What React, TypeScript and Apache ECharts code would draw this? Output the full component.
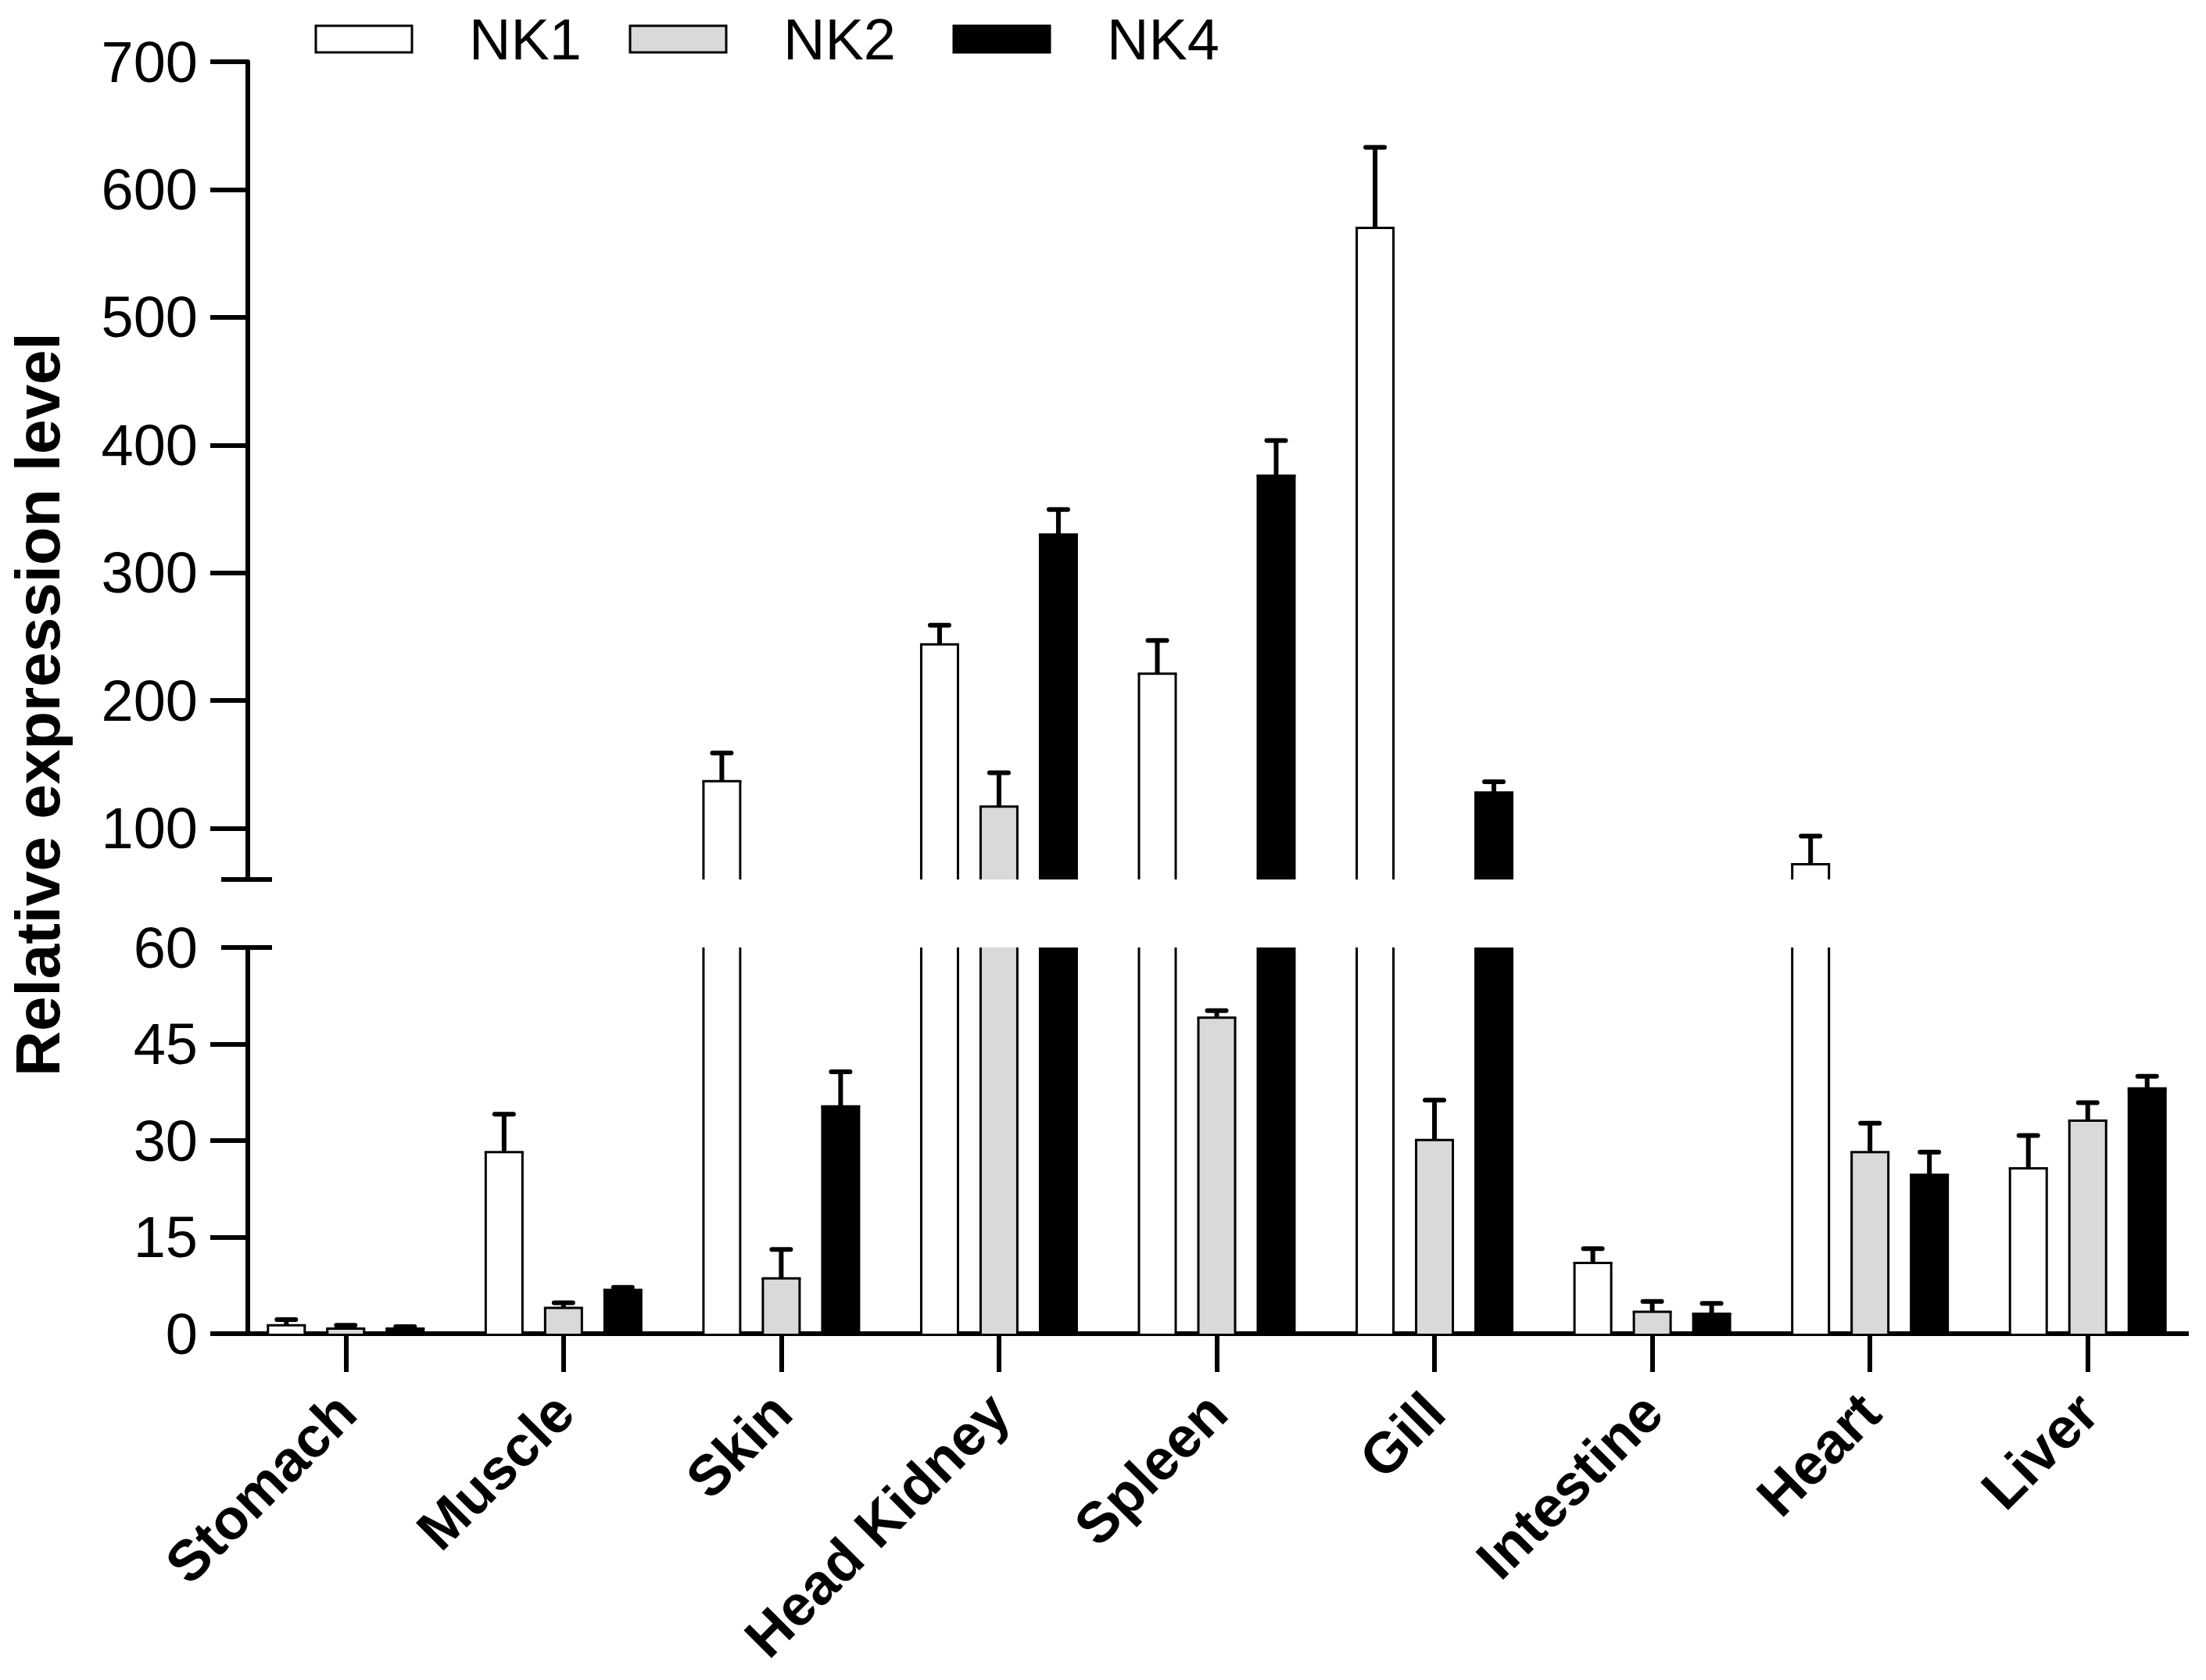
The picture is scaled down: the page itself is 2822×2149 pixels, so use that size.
import React, { useEffect, useRef } from "react";
import * as echarts from "echarts";

// ---------- data ----------
const categories = ["Stomach", "Muscle", "Skin", "Head Kidney", "Spleen", "Gill", "Intestine", "Heart", "Liver"];
const seriesNames = ["NK1", "NK2", "NK4"];
const nk1Mean = [1.3, 28.2, 137, 244, 221, 570, 11.0, 72, 25.7];
const nk1Sd = [0.9, 5.9, 22, 15, 26, 63, 2.2, 22, 5.1];
const nk2Mean = [0.8, 4.0, 8.6, 117, 49.1, 30.1, 3.4, 28.2, 33.1];
const nk2Sd = [0.5, 0.8, 4.5, 26.5, 1.1, 6.2, 1.6, 4.5, 2.8];
const nk4Mean = [0.8, 6.8, 35.3, 330, 376, 128, 3.1, 24.7, 38.1];
const nk4Sd = [0.3, 0.4, 5.4, 19.5, 27.5, 8.5, 1.6, 3.5, 1.9];
const upperRange = [60, 700];
const lowerRange = [0, 60];
const upperTicks = [100, 200, 300, 400, 500, 600, 700];
const lowerLabels = [0, 15, 30, 45, 60];
const lowerTickMarks = [0, 15, 30, 45];
const yTitle = "Relative expression level";

// ---------- layout / style ----------
const FONT = "'Liberation Sans', Arial, Helvetica, sans-serif";
const W = 2822;
const H = 2149;
const GRID_LEFT = 303;
const GRID_WIDTH = 2507;
const AXIS_X = 317;
const AXIS_RIGHT_END = 2800;
const TOP_Y = 79;
const TOP_H = 1046;
const BOT_Y = 1212;
const BOT_H = 494;
const FILLS = ["#ffffff", "#d9d9d9", "#000000"];
const OFFSETS = [-0.2728, 0, 0.2728];
const BAR_W = 0.1687;
const AX_W = 6;
const ERR_W = 6;
const LEGEND_LEFT = [397.5, 799.5, 1213.5];

function makeRender(k: number) {
  return (params: any, api: any) => {
    const cat = api.value(0);
    const val = api.value(1);
    const sd = api.value(2);
    const cs = params.coordSys;
    const band = api.size([1, 0])[0];
    const p = api.coord([cat, val]);
    const bw = BAR_W * band;
    const x0 = p[0] + OFFSETS[k] * band - bw / 2;
    const yTop = p[1];
    const yBase = cs.y + cs.height;
    if (yTop >= yBase) return null;
    const clipped = yTop < cs.y;
    const top = clipped ? cs.y : yTop;
    const stroke = { stroke: "#000", lineWidth: 3 };
    const children: any[] = [
      { type: "rect", shape: { x: x0, y: top, width: bw, height: yBase - top }, style: { fill: FILLS[k] } },
      { type: "line", shape: { x1: x0, y1: top, x2: x0, y2: yBase }, style: stroke },
      { type: "line", shape: { x1: x0 + bw, y1: top, x2: x0 + bw, y2: yBase }, style: stroke },
    ];
    if (!clipped) {
      children.push({
        type: "line",
        shape: { x1: x0 - 1.5, y1: yTop, x2: x0 + bw + 1.5, y2: yTop },
        style: stroke,
      });
      const yErr = api.coord([cat, val + sd])[1];
      const mid = x0 + bw / 2;
      children.push({
        type: "line",
        shape: { x1: mid, y1: yTop, x2: mid, y2: yErr },
        style: { stroke: "#000", lineWidth: ERR_W },
      });
      children.push({
        type: "line",
        shape: { x1: mid - 12, y1: yErr, x2: mid + 12, y2: yErr },
        style: { stroke: "#000", lineWidth: ERR_W, lineCap: "round" },
      });
    }
    return { type: "group", children };
  };
}

export default function App() {
  const ref = useRef<HTMLDivElement>(null);
  useEffect(() => {
    if (!ref.current) return;
    const chart = echarts.init(ref.current, undefined, { renderer: "svg" });
    const means = [nk1Mean, nk2Mean, nk4Mean];
    const sds = [nk1Sd, nk2Sd, nk4Sd];
    const series: any[] = [];
    [0, 1].forEach((g) => {
      seriesNames.forEach((name, k) => {
        series.push({
          type: "custom",
          name,
          xAxisIndex: g,
          yAxisIndex: g,
          silent: true,
          encode: { x: 0, y: 1 },
          renderItem: makeRender(k),
          data: means[k].map((v, i) => [i, v, sds[k][i]]),
        });
      });
    });

    const yCommon = {
      type: "value",
      offset: -(AXIS_X - GRID_LEFT),
      splitLine: { show: false },
      axisLine: { show: true, onZero: false, lineStyle: { color: "#000", width: AX_W } },
    };

    const option: any = {
      animation: false,
      backgroundColor: "#ffffff",
      legend: seriesNames.map((name, k) => ({
        left: LEGEND_LEFT[k],
        top: 8,
        icon: "rect",
        itemWidth: 123,
        itemHeight: 34,
        selectedMode: false,
        data: [{ name, itemStyle: { color: FILLS[k], borderColor: "#000", borderWidth: 3 } }],
        textStyle: { fontSize: 74, color: "#000", fontFamily: FONT, padding: [0, 0, 0, 68] },
      })),
      grid: [
        { left: GRID_LEFT, top: TOP_Y, width: GRID_WIDTH, height: TOP_H },
        { left: GRID_LEFT, top: BOT_Y, width: GRID_WIDTH, height: BOT_H },
      ],
      xAxis: [
        { type: "category", gridIndex: 0, data: categories, show: false },
        {
          type: "category",
          gridIndex: 1,
          data: categories,
          boundaryGap: true,
          axisLine: { show: true, onZero: false, lineStyle: { color: "#000", width: AX_W } },
          axisTick: {
            show: true,
            alignWithLabel: true,
            interval: 0,
            length: 49,
            lineStyle: { color: "#000", width: AX_W },
          },
          axisLabel: {
            interval: 0,
            rotate: 45,
            fontSize: 73,
            fontWeight: "bold",
            color: "#000",
            fontFamily: FONT,
            margin: 88,
          },
        },
      ],
      yAxis: [
        {
          ...yCommon,
          gridIndex: 0,
          min: upperRange[0],
          max: upperRange[1],
          axisTick: {
            show: true,
            length: 48,
            lineStyle: { color: "#000", width: AX_W },
            customValues: upperTicks,
          },
          axisLabel: { fontSize: 74, color: "#000", fontFamily: FONT, margin: 64, customValues: upperTicks },
        },
        {
          ...yCommon,
          gridIndex: 1,
          min: lowerRange[0],
          max: lowerRange[1],
          interval: 15,
          axisTick: {
            show: true,
            length: 48,
            lineStyle: { color: "#000", width: AX_W },
            customValues: lowerTickMarks,
          },
          axisLabel: { fontSize: 74, color: "#000", fontFamily: FONT, margin: 64, customValues: lowerLabels },
        },
      ],
      graphic: [
        {
          type: "rect",
          shape: { x: AXIS_RIGHT_END, y: BOT_Y + BOT_H - 6, width: W - AXIS_RIGHT_END, height: 12 },
          style: { fill: "#ffffff" },
          z: 100,
        },
        {
          type: "line",
          shape: { x1: AXIS_X - 34, y1: TOP_Y + TOP_H, x2: AXIS_X + 31, y2: TOP_Y + TOP_H },
          style: { stroke: "#000", lineWidth: AX_W },
          z: 100,
        },
        {
          type: "line",
          shape: { x1: AXIS_X - 34, y1: BOT_Y, x2: AXIS_X + 31, y2: BOT_Y },
          style: { stroke: "#000", lineWidth: AX_W },
          z: 100,
        },
        {
          type: "text",
          x: 48,
          y: 901,
          rotation: Math.PI / 2,
          style: {
            text: yTitle,
            fontSize: 80,
            fontWeight: "bold",
            fontFamily: FONT,
            fill: "#000",
            align: "center",
            verticalAlign: "middle",
          },
        },
      ],
      series,
    };
    chart.setOption(option);
    return () => chart.dispose();
  }, []);
  return <div ref={ref} style={{ position: "fixed", left: 0, top: 0, width: W, height: H }} />;
}
